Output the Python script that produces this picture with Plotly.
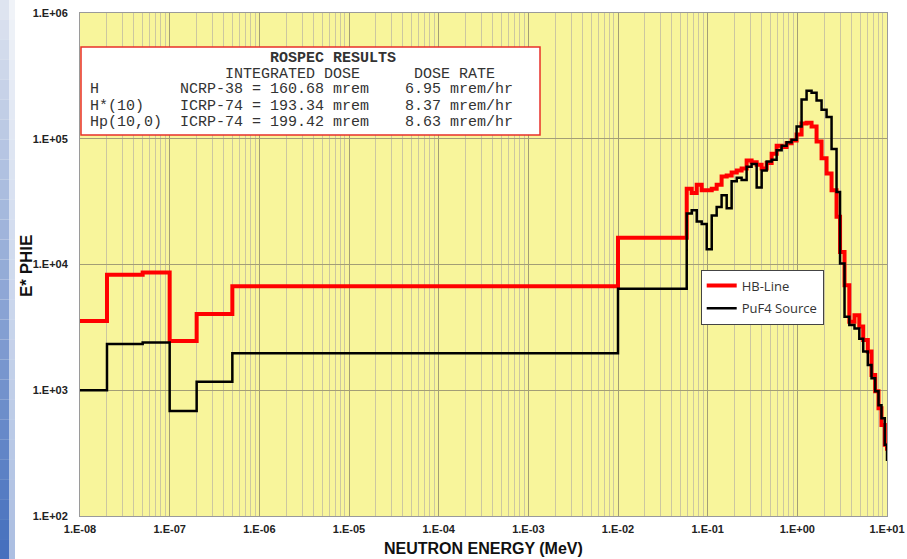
import plotly.graph_objects as go

# ---------------- data ----------------
energy_edges = [1e-8, 2e-8, 5e-8, 1e-7, 2e-7, 5e-7, 1e-2,
                0.0584, 0.0664, 0.0755, 0.0858, 0.0976, 0.111, 0.126, 0.143, 0.163, 0.185,
                0.211, 0.239, 0.272, 0.309, 0.352, 0.400, 0.455, 0.517, 0.588, 0.668,
                0.759, 0.863, 0.981, 1.115, 1.268, 1.441, 1.639, 1.863, 2.118, 2.408,
                2.737, 2.995, 3.36, 3.80, 4.34, 4.91, 5.43, 6.11, 6.72, 7.38, 8.04,
                8.68, 9.45, 10.0]

hb_line = [3550, 8300, 8650, 2460, 4040, 6730, 16300,
           40000, 37000, 43000, 39000, 39000, 40000, 43000, 50000, 51000, 54000,
           56000, 58000, 67000, 65000, 62000, 58000, 64000, 76000, 88000, 86000,
           92000, 97000, 108000, 132000, 134000, 125000, 95000, 70000, 53000, 39000,
           24000, 12600, 6850, 3500, 3950, 3220, 2510, 2030, 1320, 980, 720,
           530, 368]
hb_line_end = 330

puf4_source = [1000, 2330, 2400, 685, 1170, 1970, 6400,
               25400, 27000, 22000, 21000, 13200, 24500, 28700, 35500, 28000, 46000,
               49000, 47000, 60000, 63000, 41000, 56000, 66000, 68000, 81000, 88000,
               94000, 98000, 125000, 205000, 241000, 232000, 201000, 170000, 149000, 83000,
               37800, 10200, 3850, 3300, 3100, 2570, 2030, 1590, 1245, 980, 760,
               600, 368]
puf4_source_end = 274

x_tick_vals = [1e-8, 1e-7, 1e-6, 1e-5, 1e-4, 1e-3, 1e-2, 1e-1, 1e0, 1e1]
x_tick_text = ["1.E-08", "1.E-07", "1.E-06", "1.E-05", "1.E-04", "1.E-03",
               "1.E-02", "1.E-01", "1.E+00", "1.E+01"]
y_tick_vals = [1e2, 1e3, 1e4, 1e5, 1e6]
y_tick_text = ["1.E+02", "1.E+03", "1.E+04", "1.E+05", "1.E+06"]

box_lines = [
    "                    ROSPEC RESULTS",
    "               INTEGRATED DOSE      DOSE RATE",
    "H         NCRP-38 = 160.68 mrem    6.95 mrem/hr",
    "H*(10)    ICRP-74 = 193.34 mrem    8.37 mrem/hr",
    "Hp(10,0)  ICRP-74 = 199.42 mrem    8.63 mrem/hr",
]

# ---------------- figure ----------------
W, H = 907, 559
L, R, T, B = 80, 20, 13, 43
PW, PH = W - L - R, H - T - B


def px(xp):
    return (xp - L) / PW


def py(yp):
    return (H - B - yp) / PH


fig = go.Figure()
fig.add_trace(go.Scatter(x=energy_edges, y=hb_line + [hb_line_end], mode="lines",
                         line=dict(color="#ff0000", width=4, shape="hv"),
                         name="HB-Line", legendgroup="a"))
fig.add_trace(go.Scatter(x=energy_edges, y=puf4_source + [puf4_source_end], mode="lines",
                         line=dict(color="#000000", width=2.5, shape="hv"),
                         name="PuF4 Source", legendgroup="b"))

minor_x = [m * 10 ** e for e in range(-8, 1) for m in range(2, 10)]

tickfont = dict(family="Liberation Sans, Arial", size=11, color="#222222")
fig.update_xaxes(type="log", range=[-8, 1], tickmode="array", tickvals=x_tick_vals,
                 ticktext=["<b>%s</b>" % t for t in x_tick_text], tickfont=tickfont,
                 showgrid=True, gridcolor="#a39e76", gridwidth=1,
                 minor=dict(tickmode="array", tickvals=minor_x, showgrid=True,
                            gridcolor="#ccc7a0", gridwidth=1, ticks=""),
                 showline=True, linecolor="#9a9a9a", linewidth=1, mirror=True,
                 ticks="", ticklabelstandoff=3, zeroline=False, automargin=False)
fig.update_yaxes(type="log", range=[2, 6], tickmode="array", tickvals=y_tick_vals,
                 ticktext=["<b>%s</b>" % t for t in y_tick_text], tickfont=tickfont,
                 showgrid=True, gridcolor="#a39e76", gridwidth=1,
                 showline=True, linecolor="#9a9a9a", linewidth=1, mirror=True,
                 ticks="", ticklabelstandoff=9, zeroline=False, automargin=False)

shapes = []
# left decorative blue gradient stripe
n = 28
for i in range(n):
    t = i / (n - 1)
    r = int(222 + (70 - 222) * t)
    g = int(228 + (112 - 228) * t)
    b = int(240 + (190 - 240) * t)
    y0 = H * i / n
    y1 = H * (i + 1) / n
    shapes.append(dict(type="rect", xref="paper", yref="paper",
                       x0=px(0), x1=px(9), y0=py(y1), y1=py(y0),
                       fillcolor="rgb(%d,%d,%d)" % (r, g, b), line=dict(width=0), layer="above"))
    shapes.append(dict(type="rect", xref="paper", yref="paper",
                       x0=px(9), x1=px(15), y0=py(y1), y1=py(y0),
                       fillcolor="rgba(%d,%d,%d,0.45)" % (r, g, b), line=dict(width=0), layer="above"))

# results box
shapes.append(dict(type="rect", xref="paper", yref="paper",
                   x0=px(81), x1=px(540), y0=py(135), y1=py(47),
                   fillcolor="white", line=dict(color="#e8302a", width=1.5), layer="above"))

annotations = []
line_y = [58, 74, 90, 106, 122]
for i, (txt, yy) in enumerate(zip(box_lines, line_y)):
    t = txt.replace(" ", "\u00a0")
    if i == 0:
        t = "<b>" + t + "</b>"
    annotations.append(dict(text=t, xref="paper", yref="paper", x=px(88), y=py(yy),
                            xanchor="left", yanchor="middle", showarrow=False,
                            height=15, valign="middle",
                            font=dict(family="Liberation Mono, Courier New", size=15, color="#333333")))

annotations.append(dict(text="<b>E* PHIE</b>", xref="paper", yref="paper",
                        x=px(26), y=py(266), xanchor="center", yanchor="middle",
                        textangle=-90, showarrow=False,
                        font=dict(family="Liberation Sans, Arial", size=17, color="#111111")))
annotations.append(dict(text="<b>NEUTRON ENERGY (MeV)</b>", xref="paper", yref="paper",
                        x=px(483), y=py(548), xanchor="center", yanchor="middle",
                        showarrow=False,
                        font=dict(family="Liberation Sans, Arial", size=16, color="#111111")))

fig.update_layout(
    width=W, height=H,
    margin=dict(l=L, r=R, t=T, b=B, autoexpand=False),
    paper_bgcolor="white", plot_bgcolor="#f8f59b",
    shapes=shapes, annotations=annotations,
    showlegend=True,
    legend=dict(x=px(700.7), y=py(269.5), xanchor="left", yanchor="top",
                bgcolor="white", bordercolor="#444444", borderwidth=1,
                font=dict(family="Open Sans", size=13, color="#333333"),
                tracegroupgap=3),
)

fig.write_html("out.html", config={"displayModeBar": False},
               post_script="document.body.style.margin='0';document.body.style.overflow='hidden';")
